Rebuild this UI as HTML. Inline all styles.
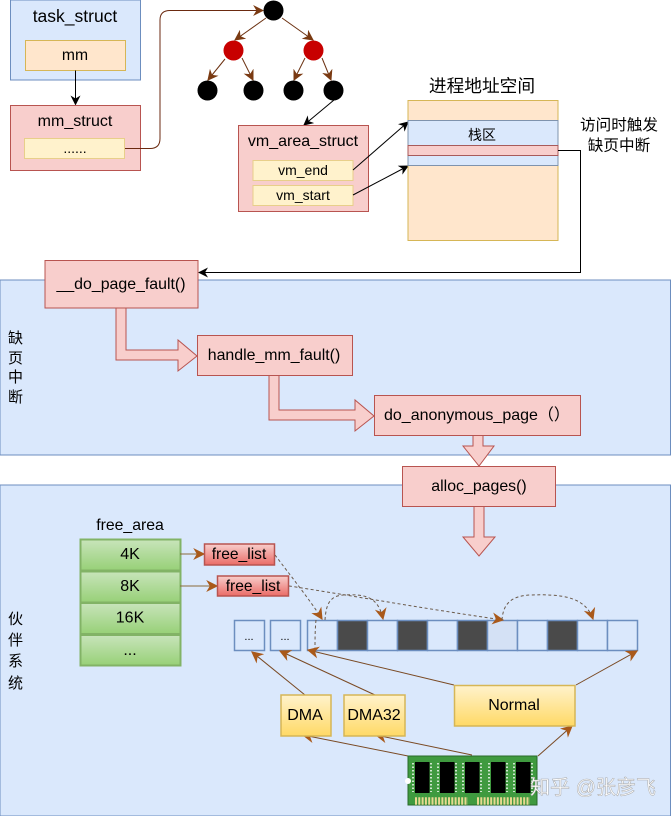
<!DOCTYPE html>
<html><head><meta charset="utf-8">
<style>html,body{margin:0;padding:0;background:#fff}svg{display:block;filter:blur(.3px)}
text{font-family:"Liberation Sans","Noto Sans CJK SC",sans-serif;fill:#000;text-anchor:middle}</style></head>
<body>
<svg width="671" height="816" viewBox="0 0 671 816" xmlns="http://www.w3.org/2000/svg">
<defs>
<marker id="k" viewBox="0 0 10 10" refX="9" refY="5" markerWidth="10" markerHeight="10" orient="auto" markerUnits="userSpaceOnUse"><path d="M0,0L10,5L0,10L3,5Z" fill="#000"/></marker>
<marker id="b" viewBox="0 0 10 10" refX="9" refY="5" markerWidth="11" markerHeight="11" orient="auto" markerUnits="userSpaceOnUse"><path d="M0,0L10,5L0,10L3,5Z" fill="#7a3a12"/></marker>
<marker id="o" viewBox="0 0 10 10" refX="9" refY="5" markerWidth="12" markerHeight="12" orient="auto" markerUnits="userSpaceOnUse"><path d="M0,0L10,5L0,10L3,5Z" fill="#a9591a"/></marker>
<linearGradient id="g" x1="0" y1="0" x2="0" y2="1"><stop offset="0" stop-color="#c8e4bb"/><stop offset="1" stop-color="#97d077"/></linearGradient>
<linearGradient id="y" x1="0" y1="0" x2="0" y2="1"><stop offset="0" stop-color="#fff2cc"/><stop offset="1" stop-color="#ffd966"/></linearGradient>
<linearGradient id="r" x1="0" y1="0" x2="0" y2="1"><stop offset="0" stop-color="#f8cecc"/><stop offset="1" stop-color="#ea6b66"/></linearGradient>
</defs>

<!-- panels -->
<rect x="0" y="280" width="670.5" height="175" fill="#dae8fc" stroke="#6c8ebf"/>
<rect x="0" y="485" width="670.5" height="331" fill="#dae8fc" stroke="#6c8ebf"/>

<!-- top-left -->
<rect x="10.500" y="0" width="130" height="80" fill="#dae8fc" stroke="#6c8ebf"/>
<text x="75" y="22" font-size="17.500">task_struct</text>
<rect x="25.500" y="40.500" width="100" height="30" fill="#ffe6cc" stroke="#d6b656"/>
<text x="75" y="60" font-size="15.700">mm</text>
<path d="M75.500,70.500V104.500" stroke="#000" fill="none" marker-end="url(#k)"/>
<rect x="10.500" y="105.500" width="130" height="65" fill="#f8cecc" stroke="#b85450"/>
<text x="75" y="126" font-size="16">mm_struct</text>
<rect x="24.500" y="138.500" width="100" height="20" fill="#fff2cc" stroke="#e8cf8a"/>
<text x="75" y="153" font-size="14">......</text>
<path d="M125,148.500H150Q160,148.500 160,138.500V20Q160,10.500 170,10.500H263" stroke="#6b2a10" fill="none" marker-end="url(#b)"/>

<!-- tree -->
<g stroke="#6b3010" fill="none">
<path d="M266,18L235,40" marker-end="url(#b)"/>
<path d="M282,18L313,40" marker-end="url(#b)"/>
<path d="M225,59L208,80" marker-end="url(#b)"/>
<path d="M242,58L253,80" marker-end="url(#b)"/>
<path d="M305,58L294,80" marker-end="url(#b)"/>
<path d="M322,58L331,80" marker-end="url(#b)"/>
</g>
<circle cx="273.500" cy="10.500" r="10" fill="#000"/>
<circle cx="233.500" cy="50.500" r="10" fill="#c80000"/>
<circle cx="313.500" cy="50.500" r="10" fill="#c80000"/>
<circle cx="207.500" cy="90.500" r="10" fill="#000"/>
<circle cx="253.500" cy="90.500" r="10" fill="#000"/>
<circle cx="293.500" cy="90.500" r="10" fill="#000"/>
<circle cx="333.500" cy="90.500" r="10" fill="#000"/>
<path d="M334,100L304,125" stroke="#000" fill="none" marker-end="url(#k)"/>

<!-- vm_area -->
<rect x="238.500" y="125.500" width="130" height="86" fill="#f8cecc" stroke="#b85450"/>
<text x="303" y="146" font-size="16">vm_area_struct</text>
<rect x="253" y="160.500" width="100" height="20" fill="#fff2cc" stroke="#e8cf8a"/>
<text x="303" y="175" font-size="14">vm_end</text>
<rect x="253" y="185.500" width="100" height="20" fill="#fff2cc" stroke="#e8cf8a"/>
<text x="303" y="200" font-size="14">vm_start</text>
<path d="M353,170L408,122" stroke="#000" fill="none" marker-end="url(#k)"/>
<path d="M353,195L408,166" stroke="#000" fill="none" marker-end="url(#k)"/>

<!-- address space -->
<text x="482" y="92" font-size="17.700">进程地址空间</text>
<rect x="408" y="100.500" width="150" height="140" fill="#ffe6cc" stroke="#d6b656"/>
<rect x="408" y="120.500" width="150" height="45" fill="#dae8fc" stroke="#7f93ad"/>
<text x="482" y="140" font-size="14">栈区</text>
<rect x="408" y="145.500" width="150" height="10" fill="#f8cecc" stroke="#a85a5a"/>
<text x="619" y="130" font-size="15.600">访问时触发</text>
<text x="619" y="150.500" font-size="15.600">缺页中断</text>
<path d="M558,150.500H580.500V272.500H199" stroke="#000" fill="none" marker-end="url(#k)"/>

<!-- page fault chain -->
<polygon points="116,308 126,308 126,350 178,350 178,340 197,356 178,371 178,360 116,360" fill="#f8cecc" stroke="#b85450"/>
<polygon points="269,375 279,375 279,410 355,410 355,400 374,416 355,431 355,420 269,420" fill="#f8cecc" stroke="#b85450"/>
<polygon points="473,435 483,435 483,446 494,446 479,466 463,446 473,446" fill="#f8cecc" stroke="#b85450"/>
<polygon points="474,506 484,506 484,537 495,537 479,556 463,537 474,537" fill="#f8cecc" stroke="#b85450"/>
<rect x="45" y="260.500" width="153" height="47.500" fill="#f8cecc" stroke="#b85450"/>
<text x="121" y="289" font-size="15.900">__do_page_fault()</text>
<rect x="197.500" y="335.500" width="155" height="40" fill="#f8cecc" stroke="#b85450"/>
<text x="274" y="360" font-size="15.900">handle_mm_fault()</text>
<rect x="374.500" y="395.500" width="206" height="40" fill="#f8cecc" stroke="#b85450"/>
<text x="384" y="420" font-size="16" style="text-anchor:start">do_anonymous_page（）</text>
<rect x="402.500" y="466.500" width="153" height="40" fill="#f8cecc" stroke="#b85450"/>
<text x="479" y="491" font-size="15.900">alloc_pages()</text>

<text x="15.500" y="343" font-size="15">缺</text>
<text x="15.500" y="363" font-size="15">页</text>
<text x="15.500" y="382" font-size="15">中</text>
<text x="15.500" y="402" font-size="15">断</text>
<text x="15.500" y="624" font-size="15">伙</text>
<text x="15.500" y="645" font-size="15">伴</text>
<text x="15.500" y="666" font-size="15">系</text>
<text x="15.500" y="688" font-size="15">统</text>

<!-- free area -->
<text x="130" y="530" font-size="15.800">free_area</text>
<g fill="url(#g)" stroke="#82b366" stroke-width="2">
<rect x="80.500" y="539.500" width="100" height="31"/>
<rect x="80.500" y="571.500" width="100" height="31"/>
<rect x="80.500" y="603" width="100" height="31"/>
<rect x="80.500" y="635" width="100" height="30.500"/>
</g>
<text x="130" y="559" font-size="16">4K</text>
<text x="130" y="591" font-size="16">8K</text>
<text x="130" y="622.500" font-size="16">16K</text>
<text x="130" y="655" font-size="16">...</text>
<path d="M180,554H204" stroke="#8a6a3a" fill="none" marker-end="url(#o)"/>
<path d="M180,586H217" stroke="#8a6a3a" fill="none" marker-end="url(#o)"/>
<rect x="204.500" y="544" width="70" height="21" fill="url(#r)" stroke="#b85450" stroke-width="1.500"/>
<text x="239" y="559" font-size="15.600">free_list</text>
<rect x="217.500" y="576" width="71" height="20" fill="url(#r)" stroke="#b85450" stroke-width="1.500"/>
<text x="253" y="591" font-size="15.600">free_list</text>

<!-- cells -->
<g fill="#dae8fc" stroke="#6c8ebf" stroke-width="1.500">
<rect x="234.500" y="620.500" width="30" height="30"/>
<rect x="270.500" y="620.500" width="30" height="30"/>
<rect x="307.500" y="620.500" width="30" height="30"/>
<rect x="337.500" y="620.500" width="30" height="30" fill="#4a4a4a"/>
<rect x="367.500" y="620.500" width="30" height="30"/>
<rect x="397.500" y="620.500" width="30" height="30" fill="#4a4a4a"/>
<rect x="427.500" y="620.500" width="30" height="30"/>
<rect x="457.500" y="620.500" width="30" height="30" fill="#4a4a4a"/>
<rect x="487.500" y="620.500" width="30" height="30" fill="#d4e1f5"/>
<rect x="517.500" y="620.500" width="30" height="30"/>
<rect x="547.500" y="620.500" width="30" height="30" fill="#4a4a4a"/>
<rect x="577.500" y="620.500" width="30" height="30"/>
<rect x="607.500" y="620.500" width="30" height="30"/>
</g>
<text x="249" y="640" font-size="11">...</text>
<text x="285" y="640" font-size="11">...</text>

<!-- dashed -->
<g stroke="#6b5a4a" fill="none" stroke-dasharray="3 2.500">
<path d="M275,555C290,575 310,600 322,619" marker-end="url(#o)"/>
<path d="M289,586C330,592 420,608 503,620" marker-end="url(#o)"/>
<path d="M325,620C326,604 330,596 343,595C365,594 378,596 383,619" marker-end="url(#o)"/>
<path d="M502,620C503,605 510,596 530,595C560,594 585,596 593,619" marker-end="url(#o)"/>
<path d="M316,620C315,630 315,640 315,650"/>
</g>

<!-- lines from zones -->
<g stroke="#7a4a24" fill="none">
<path d="M305,695L252,652" marker-end="url(#o)"/>
<path d="M375,695L280,651" marker-end="url(#o)"/>
<path d="M454,685L308,650" marker-end="url(#o)"/>
<path d="M576,685L637,651" marker-end="url(#o)"/>
<path d="M408,756L303,735" marker-end="url(#o)"/>
<path d="M472,755L376,735" marker-end="url(#o)"/>
<path d="M538,756L572,726" marker-end="url(#o)"/>
</g>

<!-- zones -->
<g fill="url(#y)" stroke="#d6b656" stroke-width="1.500">
<rect x="281" y="695" width="50" height="41"/>
<rect x="344" y="695" width="61" height="41"/>
<rect x="454.500" y="685.500" width="120.500" height="40.500"/>
</g>
<text x="305" y="720" font-size="16">DMA</text>
<text x="374" y="720" font-size="16">DMA32</text>
<text x="514" y="710" font-size="16">Normal</text>

<!-- RAM -->
<rect x="408" y="756" width="129" height="49" fill="#3f9a3f" stroke="#2a6a2a"/>
<g fill="#000">
<rect x="415" y="762" width="14.500" height="31"/>
<rect x="440" y="762" width="14.500" height="31"/>
<rect x="465" y="762" width="14.500" height="31"/>
<rect x="491" y="762" width="14.500" height="31"/>
<rect x="516" y="762" width="14.500" height="31"/>
</g>
<g stroke="#fff" stroke-width="1.500" stroke-dasharray="1.500 2" fill="none">
<path d="M413,763V792M431,763V792M438,763V792M456,763V792M463,763V792M481,763V792M489,763V792M507,763V792M514,763V792M532,763V792"/>
</g>
<path d="M415,801H468M477,801H530" stroke="#e8d890" stroke-width="7.500" stroke-dasharray="2 1.300" fill="none"/>
<circle cx="408" cy="781" r="3" fill="#fff"/>

<!-- watermark -->
<text x="593" y="794" font-size="20" style="fill:#fff;stroke:#a8a8a8;stroke-width:.5">知乎 @张彦飞</text>
</svg>
</body></html>
